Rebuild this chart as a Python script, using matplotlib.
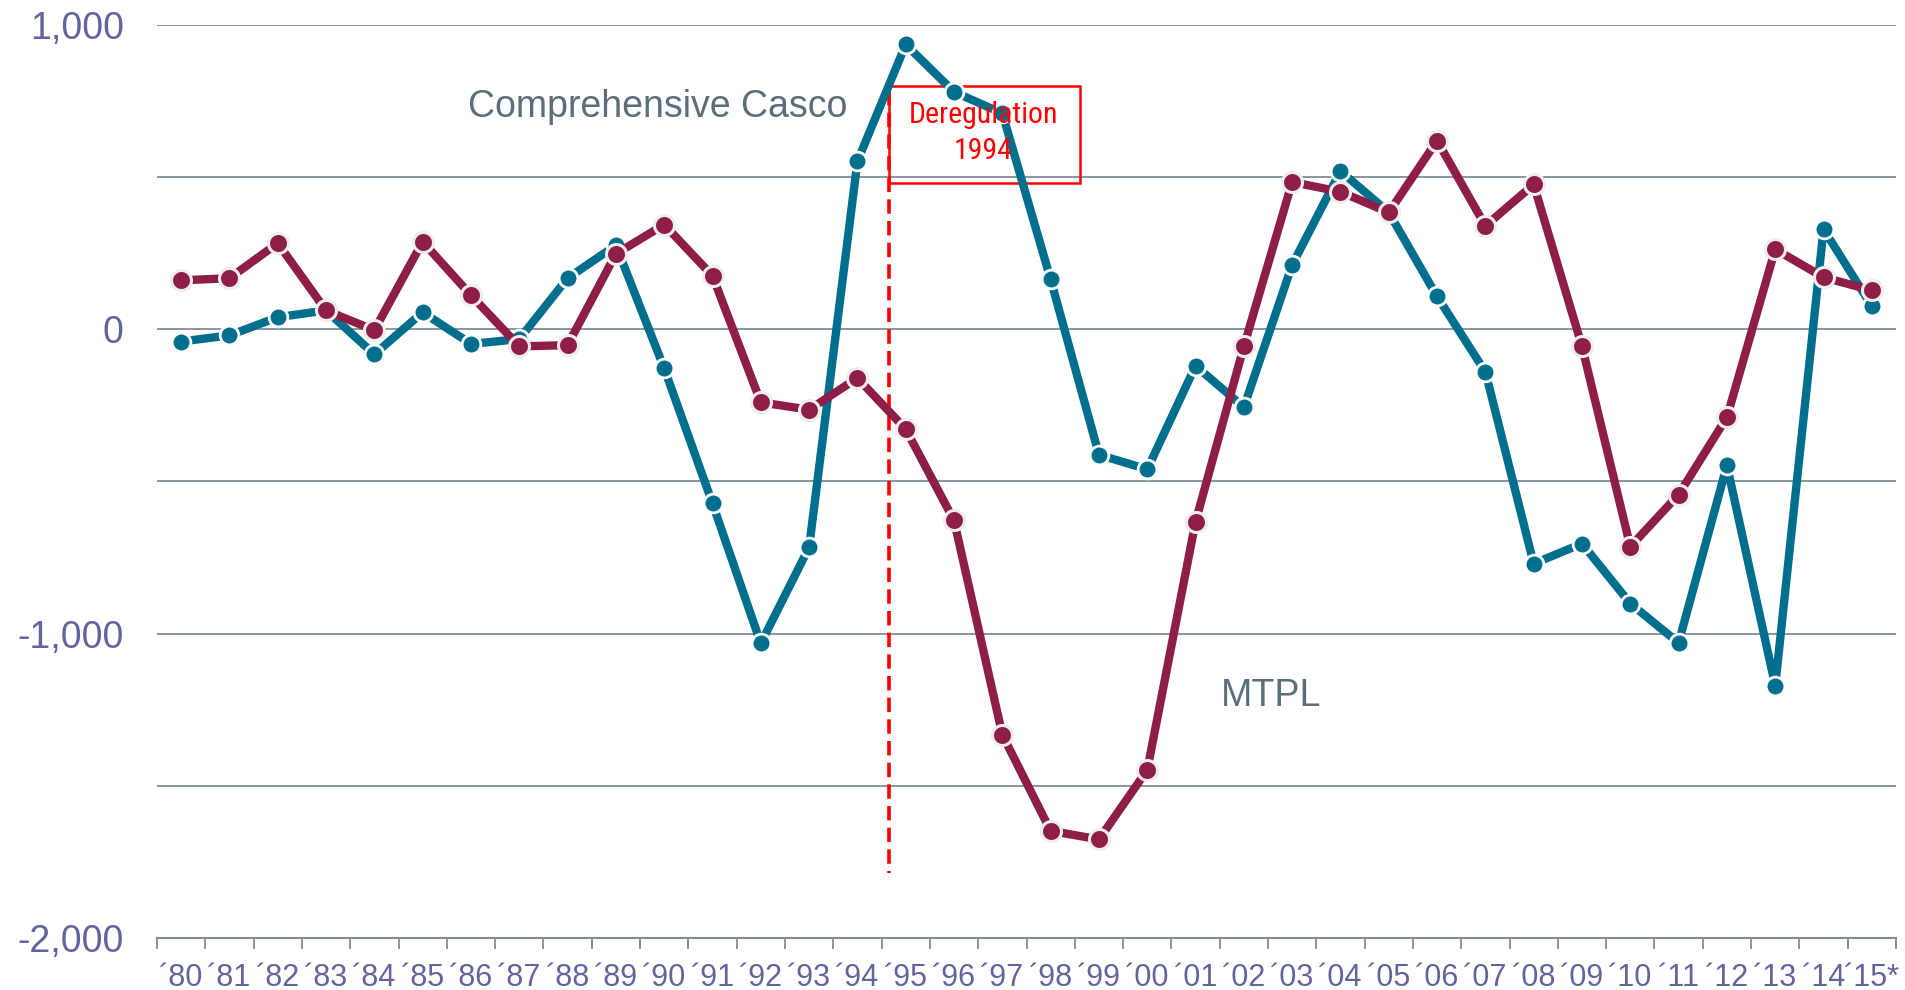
import matplotlib
matplotlib.use("Agg")
import matplotlib.pyplot as plt
from matplotlib.patches import Rectangle
from matplotlib.ticker import FixedLocator, NullFormatter

years = ["´80", "´81", "´82", "´83", "´84", "´85", "´86", "´87", "´88", "´89",
         "´90", "´91", "´92", "´93", "´94", "´95", "´96", "´97", "´98", "´99",
         "´00", "´01", "´02", "´03", "´04", "´05", "´06", "´07", "´08", "´09",
         "´10", "´11", "´12", "´13", "´14", "´15*"]

casco = [-40, -20, 40, 62, -82, 56, -48, -32, 168, 276,
         -128, -572, -1032, -716, 552, 936, 780, 710, 164, -412,
         -460, -120, -256, 212, 520, 384, 108, -140, -770, -704,
         -901, -1030, -447, -1171, 329, 76]

mtpl = [161, 168, 283, 62, -3, 288, 112, -56, -52, 248,
        344, 176, -240, -264, -160, -328, -628, -1332, -1648, -1676,
        -1448, -632, -56, 484, 452, 384, 620, 340, 476, -56,
        -714, -543, -289, 263, 171, 128]

y_grid = [-1500, -1000, -500, 0, 500, 1000]
y_labels = [-2000, -1000, 0, 1000]

TEAL = "#006f8e"
RED = "#8e1d47"
TICKCOL = "#62649c"
GRID = "#7f8d97"
LABCOL = "#5b6e79"
SANS = ["Liberation Sans", "DejaVu Sans"]
NARROW = ["Roboto Condensed", "Liberation Sans", "DejaVu Sans"]

W, H = 1905, 990
fig = plt.figure(figsize=(W / 100, H / 100), dpi=100)
ax = fig.add_axes([157 / W, 1 - 938 / H, (1896 - 157) / W, (938 - 25) / H])

x = list(range(len(years)))

ax.plot(x, casco, color=TEAL, lw=6, marker="o", ms=13.5, mfc=TEAL,
        mec="white", mew=2.0, zorder=3, clip_on=False, solid_joinstyle="round")
ax.plot(x, mtpl, color=RED, lw=6, marker="o", ms=14.4, mfc=RED,
        mec="#eeeeee", mew=2.2, zorder=4, clip_on=False, solid_joinstyle="round")

ax.set_xlim(-0.5, len(years) - 0.5)
ax.set_ylim(-2000, 1000)

for g in y_grid:
    ax.axhline(g, color=GRID, lw=1.3, zorder=1)

for s in ["left", "right", "top"]:
    ax.spines[s].set_visible(False)
ax.spines["bottom"].set_color(GRID)
ax.spines["bottom"].set_linewidth(1.5)

ax.set_yticks(y_labels)
ax.set_yticklabels([f"{v:,}" for v in y_labels])
ax.tick_params(axis="y", length=0, pad=24, labelsize=27, labelcolor=TICKCOL)
for t in ax.get_yticklabels():
    t.set_family(SANS)

ax.set_xticks(x)
ax.set_xticklabels(years)
ax.tick_params(axis="x", which="major", length=0, pad=18, labelsize=22, labelcolor=TICKCOL)
for t in ax.get_xticklabels():
    t.set_family(SANS)
ax.xaxis.set_minor_locator(FixedLocator([i - 0.5 for i in range(len(years) + 1)]))
ax.xaxis.set_minor_formatter(NullFormatter())
ax.tick_params(axis="x", which="minor", length=8, width=1.3, color=GRID, direction="out")

# deregulation marker
ax.plot([14.65, 14.65], [783, -1786], color="#ff0000", lw=2.6, ls=(0, (4, 2)), zorder=2)
ax.add_patch(Rectangle((14.65, 480), 3.95, 320, fill=False, edgecolor="#ff0000",
                       lw=1.8, zorder=2))
ax.text(16.6, 645, "Deregulation\n1994", color="#ff0000", ha="center", va="center",
        fontsize=21.5, family=NARROW, linespacing=1.4, zorder=5)

ax.text(5.94, 731, "Comprehensive Casco", color=LABCOL, ha="left", va="center",
        fontsize=27, family=SANS)
ax.text(21.53, -1206, "MTPL", color=LABCOL, ha="left", va="center",
        fontsize=27, family=SANS)

fig.savefig("out.png", dpi=100)
